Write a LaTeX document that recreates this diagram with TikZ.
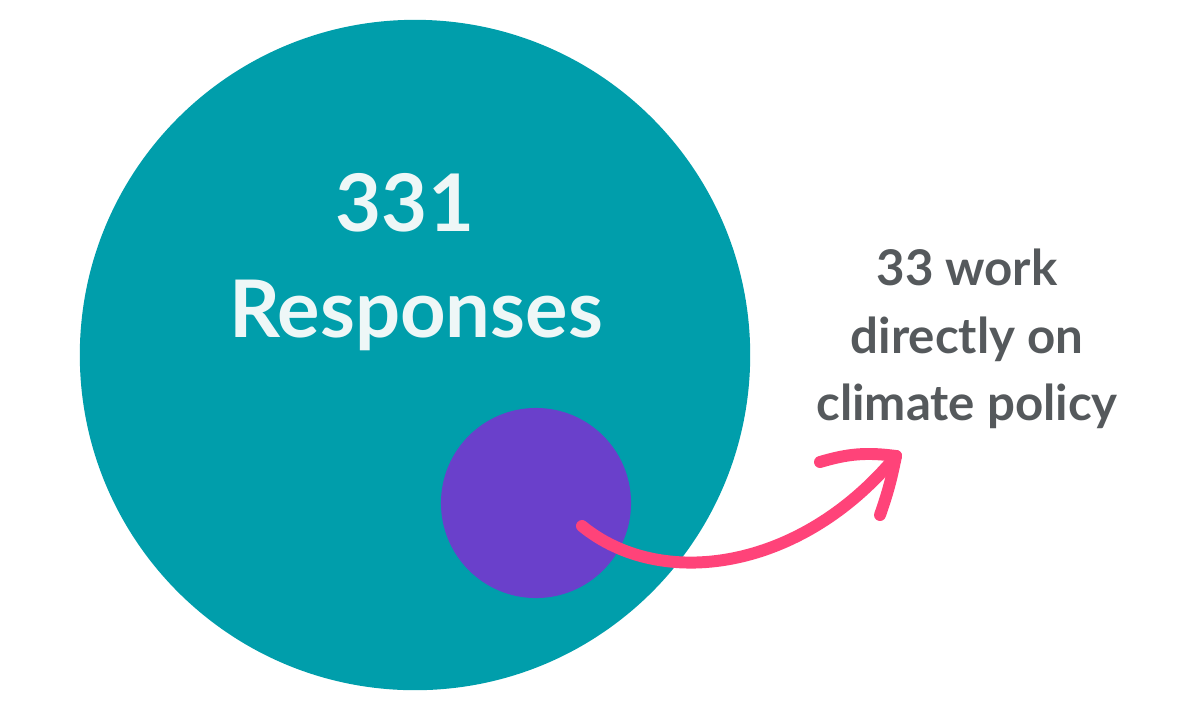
\documentclass[tikz,border=0pt]{standalone}
\usepackage{fontspec}
\setmainfont{Lato}
\usepackage{tikz}

\definecolor{teal}{RGB}{0,158,171}
\definecolor{violet}{RGB}{106,64,203}
\definecolor{rose}{RGB}{255,67,121}
\definecolor{slate}{RGB}{85,89,92}
\definecolor{pale}{RGB}{238,247,247}

\tikzset{
  blob/.style={circle, inner sep=0pt},
  bigtxt/.style={text=pale, font=\bfseries\fontsize{22.6}{30}\selectfont, anchor=base},
  sidetxt/.style={text=slate, font=\bfseries\fontsize{14}{19.2}\selectfont, align=center},
  pinkline/.style={draw=rose, line width=3.4pt, line cap=round, line join=round}
}

\begin{document}
\begin{tikzpicture}[x=0.01cm, y=-0.01cm]
    \useasboundingbox (0,0) rectangle (1200,711);
    \node[blob, fill=teal, minimum size=6.7cm] (all) at (415,355) {};
    \node[blob, fill=violet, minimum size=1.9cm] (sub) at (536,503) {};
    \node[bigtxt] (count) at (405,231) {331};
    \node[bigtxt] (resp) at (416,337) {Responses};
    \node[sidetxt] (note) at (967,339) {33 work\\directly on\\climate policy};
    \coordinate (tail) at (582,526);
    \coordinate (tip) at (896,456);
    \coordinate (barbl) at (820,462);
    \coordinate (barbd) at (880,515);
    \draw[pinkline] (tail) .. controls (660,590) and (800,572) .. (tip);
    \draw[pinkline] (barbl) to[bend left=12] (tip);
    \draw[pinkline] (tip) to[bend left=4] (barbd);
\end{tikzpicture}
\end{document}
